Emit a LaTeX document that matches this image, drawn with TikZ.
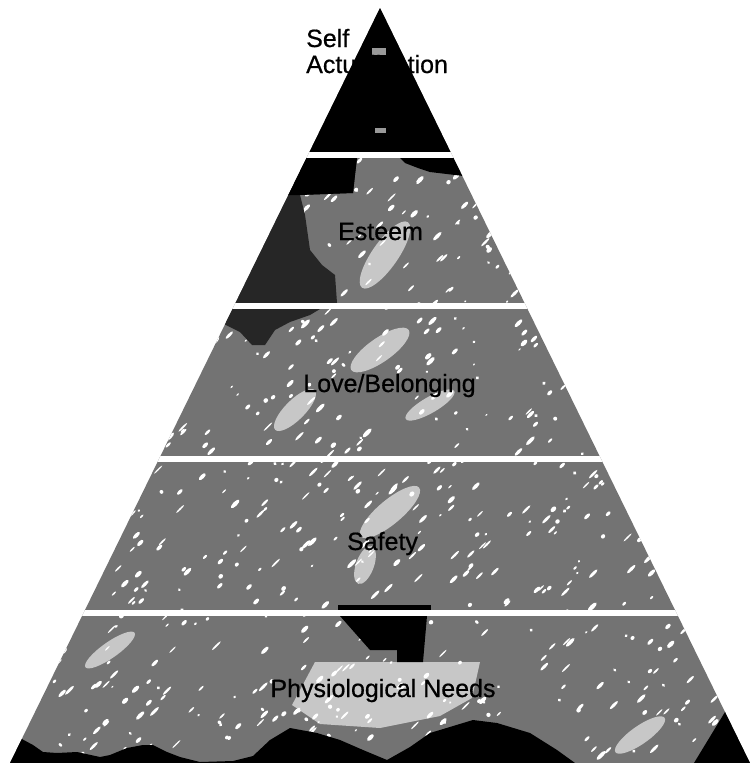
\documentclass[tikz,border=0pt]{standalone}
\usepackage{fontspec}
\setmainfont{Liberation Sans}
\newfontfamily\lblfont{Liberation Sans}[FakeBold=0.6]
\begin{document}
\begin{tikzpicture}[x=1pt,y=-1pt,
  lbl/.style={font=\lblfont\fontsize{25}{26}\selectfont, inner sep=0pt, text=black},
  halftone/.style={fill=black!55},
  lightpatch/.style={fill=black!22},
  darkpatch/.style={fill=black!85},
  solidblack/.style={fill=black},
  gapbar/.style={fill=white},
  speck/.style={fill=white}]
\useasboundingbox (0,0) rectangle (750,763);
\coordinate (apex) at (380,8);
\coordinate (bl) at (10,763);
\coordinate (br) at (750,763);
\begin{scope}
  \clip (apex) -- (bl) -- (br) -- cycle;
  \fill[halftone] (0,0) rectangle (750,763);
  % larger light areas
  \fill[lightpatch, rotate around={55:(385,255)}] (385,255) ellipse [x radius=40, y radius=13];
  \fill[lightpatch, rotate around={35:(380,350)}] (380,350) ellipse [x radius=35, y radius=12];
  \fill[lightpatch, rotate around={45:(295,410)}] (295,410) ellipse [x radius=28, y radius=10];
  \fill[lightpatch, rotate around={30:(430,405)}] (430,405) ellipse [x radius=28, y radius=8];
  \fill[lightpatch, rotate around={40:(390,512)}] (390,512) ellipse [x radius=38, y radius=12];
  \fill[lightpatch, rotate around={70:(365,565)}] (365,565) ellipse [x radius=20, y radius=9];
  \fill[lightpatch] (315,662) -- (480,662) -- (472,698) -- (440,716) -- (380,728) -- (320,724) -- (292,705) -- cycle;
  \fill[lightpatch, rotate around={35:(110,650)}] (110,650) ellipse [x radius=30, y radius=8];
  \fill[lightpatch, rotate around={35:(640,735)}] (640,735) ellipse [x radius=30, y radius=9];
  % random white specks
  \pgfmathsetseed{4242}
  \foreach \i in {1,...,900}{
    \pgfmathsetmacro\px{10+730*rnd}
    \pgfmathsetmacro\py{158+600*rnd}
    \pgfmathsetmacro\rx{1.2+5*rnd}
    \pgfmathsetmacro\ry{0.7+1.5*rnd}
    \fill[speck, rotate around={45:(\px,\py)}] (\px,\py) ellipse [x radius=\rx, y radius=\ry];
  }
  % esteem dark areas
  \fill[darkpatch] (250,158) -- (357,158) -- (355,175) -- (353,193) -- (300,195) -- (305,215) -- (310,250) -- (322,265) -- (335,275) -- (337,303) -- (200,303) -- cycle;
  \fill[solidblack] (250,158) -- (357,158) -- (355,175) -- (353,193) -- (300,195) -- (250,195) -- cycle;
  \fill[solidblack] (400,158) -- (480,158) -- (480,178) -- (455,175) -- (430,172) -- (418,168) -- (405,163) -- cycle;
  % love dark blob
  \fill[darkpatch] (220,309) -- (320,309) -- (310,315) -- (290,322) -- (275,330) -- (265,345) -- (252,345) -- (240,332) -- (220,322) -- cycle;
  % safety black bar
  \fill[solidblack] (338,605) rectangle (431,610);
  % physiological black shape
  \fill[solidblack] (340,616) -- (427,616) -- (423,662) -- (397,662) -- (397,650) -- (370,650) -- cycle;
  % bottom black hills
  \fill[solidblack] (0,763) -- (0,736) -- (20,738) -- (33,745) -- (43,752) -- (57,753) -- (77,752) -- (100,757) -- (110,755) -- (127,748) -- (143,745) -- (153,745) -- (167,752) -- (180,757) -- (200,762) -- (233,761) -- (253,756) -- (270,740) -- (290,728) -- (317,733) -- (340,740) -- (363,750) -- (387,760) -- (410,747) -- (430,733) -- (473,720) -- (497,723) -- (530,733) -- (557,750) -- (575,763) -- cycle;
  \fill[solidblack] (694,763) -- (725,712) -- (760,700) -- (760,763) -- cycle;
  % top triangle
  \fill[solidblack] (0,0) rectangle (750,152);
  \fill[black!40] (372,48) rectangle (386,55);
  \fill[black!40] (375,128) rectangle (386,133);
  % gaps between levels
  \fill[gapbar] (0,152) rectangle (750,158);
  \fill[gapbar] (0,303) rectangle (750,309);
  \fill[gapbar] (0,456) rectangle (750,462);
  \fill[gapbar] (0,610) rectangle (750,616);
\end{scope}
\node[lbl, anchor=base west, align=left] (self) at (306,73) {Self\\Actualization};
\node[lbl, anchor=base] (esteem) at (380.5,240) {Esteem};
\node[lbl, anchor=base] (love) at (389.5,392) {Love/Belonging};
\node[lbl, anchor=base] (safety) at (382.5,550) {Safety};
\node[lbl, anchor=base] (phys) at (383,697) {Physiological Needs};
\end{tikzpicture}
\end{document}
